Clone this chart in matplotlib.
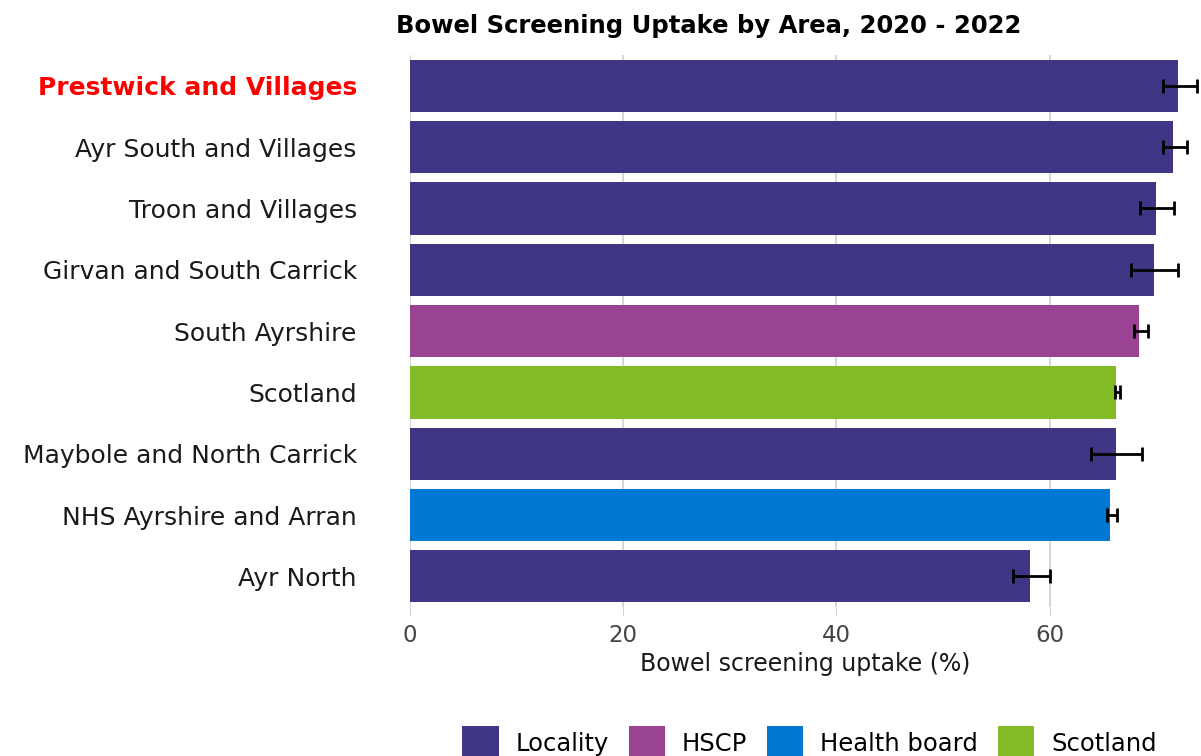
import numpy as np
import matplotlib
matplotlib.use("Agg")
import matplotlib.pyplot as plt
from matplotlib.patches import Patch

# ── data (top to bottom) ─────────────────────────────────────────────────────
areas = ["Prestwick and Villages", "Ayr South and Villages", "Troon and Villages",
         "Girvan and South Carrick", "South Ayrshire", "Scotland",
         "Maybole and North Carrick", "NHS Ayrshire and Arran", "Ayr North"]
area_type = ["Locality", "Locality", "Locality", "Locality", "HSCP", "Scotland",
             "Locality", "Health board", "Locality"]
uptake = [72.0, 71.6, 70.0, 69.8, 68.4, 66.2, 66.2, 65.7, 58.2]
ci_low = [70.6, 70.6, 68.5, 67.6, 67.9, 66.1, 63.9, 65.4, 56.6]
ci_high = [73.8, 72.9, 71.7, 72.0, 69.2, 66.6, 68.7, 66.3, 60.0]
highlight = "Prestwick and Villages"

type_order = ["Locality", "HSCP", "Health board", "Scotland"]
type_colors = {"Locality": "#3F3685", "HSCP": "#9B4393",
               "Health board": "#0078D4", "Scotland": "#83BB26"}

# ── figure ───────────────────────────────────────────────────────────────────
fig = plt.figure(figsize=(12.01, 7.56), dpi=100)
ax = fig.add_axes([0.341, 0.197, 0.659, 0.73])

y = np.arange(len(areas))
vals = np.array(uptake)
err = [vals - np.array(ci_low), np.array(ci_high) - vals]

ax.barh(y, vals, height=0.85, color=[type_colors[t] for t in area_type], zorder=2)
ax.errorbar(vals, y, xerr=err, fmt="none", ecolor="black", elinewidth=2,
            capsize=5, capthick=2, zorder=3)

ax.set_ylim(len(areas) - 0.5, -0.5)
ax.set_xlim(0, 74.2)
ax.set_xticks([0, 20, 40, 60])
ax.grid(axis="x", color="#d0d0d0", lw=1.2, zorder=0)
ax.set_axisbelow(True)
for sp in ax.spines.values():
    sp.set_visible(False)

ax.set_yticks(y)
ax.set_yticklabels(areas, fontsize=18, color="#1a1a1a")
ax.tick_params(axis="y", length=0, pad=38)
ax.tick_params(axis="x", length=6, color="#d0d0d0", labelsize=16.5, labelcolor="#444444", pad=6)
for lab in ax.get_yticklabels():
    if lab.get_text() == highlight:
        lab.set_color("red")
        lab.set_fontweight("bold")

ax.set_xlabel("Bowel screening uptake (%)", fontsize=17, color="#1a1a1a", labelpad=4)
fig.suptitle("Bowel Screening Uptake by Area, 2020 - 2022", fontsize=17.5,
             fontweight="bold", x=0.59, y=0.982)

handles = [Patch(facecolor=type_colors[t], label=t) for t in type_order]
fig.legend(handles=handles, loc="lower center", bbox_to_anchor=(0.674, -0.033),
           ncol=4, frameon=False, fontsize=17.5, handlelength=1.5,
           handleheight=1.7, handletextpad=0.7, columnspacing=0.8)

fig.savefig("out.png", dpi=100)
